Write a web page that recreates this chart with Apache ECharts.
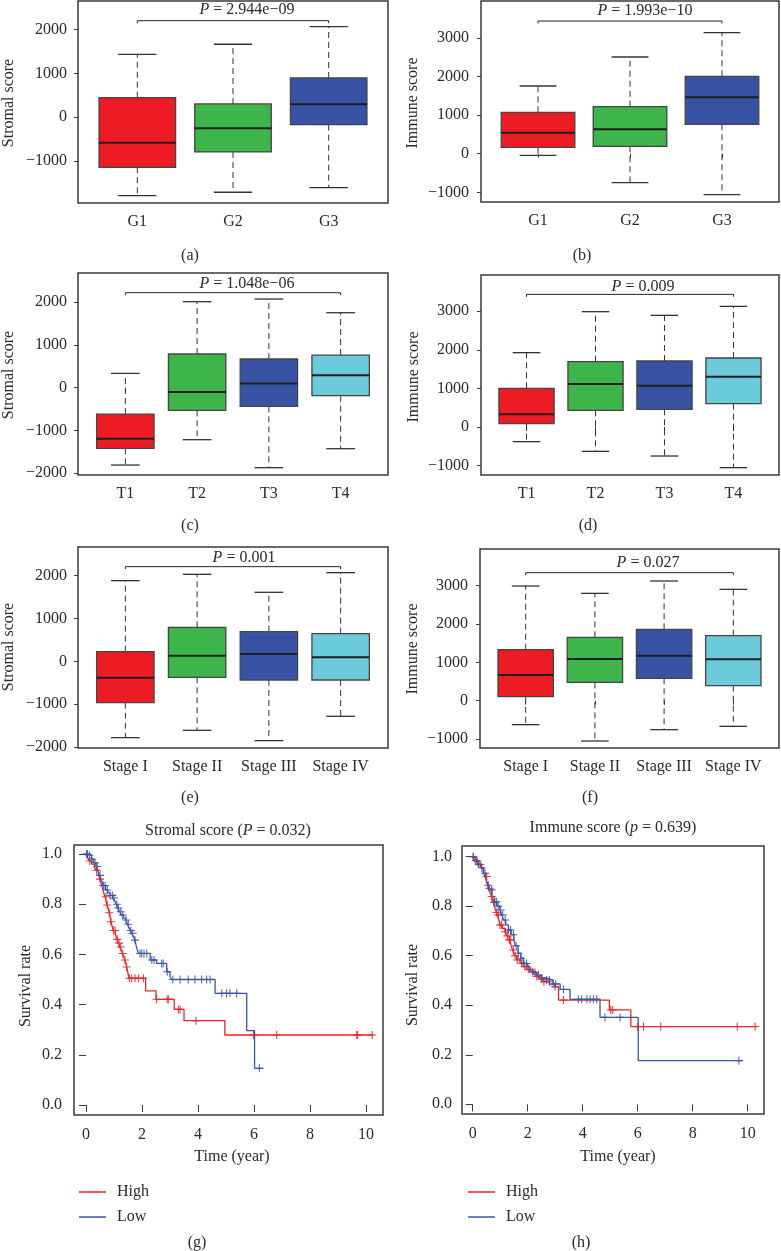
<!DOCTYPE html>
<html>
<head>
<meta charset="utf-8">
<script src="https://cdn.jsdelivr.net/npm/echarts@6/dist/echarts.min.js"></script>
<style>html,body{margin:0;padding:0;background:#fff}#c{width:781px;height:1251px}</style>
</head>
<body>
<div id="c"></div>
<script>
// ---------------- DATA ----------------
const gradeCats = ['G1', 'G2', 'G3'];
const tCats = ['T1', 'T2', 'T3', 'T4'];
const stageCats = ['Stage I', 'Stage II', 'Stage III', 'Stage IV'];
// each box: [lower whisker, Q1, median, Q3, upper whisker]
const stromalByGrade = [[-1790, -1142, -580, 447, 1438], [-1712, -792, -251, 304, 1667], [-1607, -169, 297, 897, 2068]];
const immuneByGrade = [[-41, 166, 543, 1071, 1751], [-750, 191, 631, 1216, 2502], [-1061, 761, 1459, 2003, 3131]];
const stromalByT = [[-1809, -1419, -1193, -616, 335], [-1216, -530, -101, 788, 2012], [-1871, -437, 101, 671, 2074], [-1427, -187, 289, 764, 1754]];
const immuneByT = [[-380, 86, 328, 1002, 1927], [-631, 432, 1114, 1693, 2989], [-752, 458, 1071, 1711, 2894], [-1054, 605, 1305, 1788, 3127]];
const stromalByStage = [[-1782, -965, -381, 226, 1883], [-1611, -374, 132, 794, 2031], [-1852, -436, 171, 693, 1611], [-1284, -436, 93, 646, 2070]];
const immuneByStage = [[-626, 104, 670, 1330, 2991], [-1052, 478, 1087, 1652, 2800], [-757, 583, 1174, 1861, 3122], [-670, 391, 1078, 1696, 2904]];
const pValueTexts = ['2.944e−09', '1.993e−10', '1.048e−06', '0.009', '0.001', '0.027'];
const bracketLevels = [2205, 3433, 2222, 3438, 2210, 3339];
const stromalTicks = [-2000, -1000, 0, 1000, 2000];
const immuneTicks = [-1000, 0, 1000, 2000, 3000];

// Kaplan-Meier: step times and survival after each step (last entry = end of follow-up)
const kmStromalHighTime = [0, 0.06, 0.12, 0.2, 0.3, 0.36, 0.44, 0.5, 0.56, 0.62, 0.68, 0.72, 0.75, 0.8, 0.83, 0.87, 0.89, 0.94, 0.97, 1.05, 1.1, 1.16, 1.2, 1.25, 1.3, 1.35, 1.38, 1.42, 1.45, 1.49, 1.53, 2.13, 2.5, 3.15, 3.5, 4.96, 10.26];
const kmStromalHighSurv = [1.0, 0.985, 0.972, 0.96, 0.948, 0.935, 0.918, 0.9, 0.875, 0.85, 0.83, 0.81, 0.797, 0.78, 0.766, 0.745, 0.73, 0.71, 0.695, 0.68, 0.66, 0.645, 0.63, 0.618, 0.604, 0.59, 0.578, 0.565, 0.55, 0.53, 0.505, 0.455, 0.421, 0.381, 0.336, 0.279, 0.279];
const kmStromalHighCensor = [0.14, 0.38, 0.5, 0.71, 0.76, 0.83, 0.89, 0.98, 1.04, 1.12, 1.18, 1.24, 1.31, 1.39, 1.45, 1.55, 1.63, 1.75, 1.87, 2.05, 2.52, 2.9, 2.94, 3.3, 3.36, 3.93, 5.98, 6.81, 9.67, 9.7, 10.22];
const kmStromalLowTime = [0, 0.1, 0.2, 0.28, 0.36, 0.42, 0.48, 0.55, 0.62, 0.7, 0.78, 0.86, 0.95, 1.02, 1.08, 1.14, 1.2, 1.26, 1.34, 1.42, 1.48, 1.52, 1.58, 1.63, 1.7, 1.75, 1.8, 1.87, 2.29, 2.52, 2.88, 3.0, 3.06, 4.61, 5.74, 6.02, 6.33];
const kmStromalLowSurv = [1.0, 0.995, 0.98, 0.965, 0.95, 0.936, 0.915, 0.896, 0.875, 0.857, 0.845, 0.835, 0.825, 0.815, 0.8, 0.785, 0.77, 0.757, 0.745, 0.737, 0.72, 0.71, 0.695, 0.684, 0.67, 0.657, 0.63, 0.604, 0.578, 0.564, 0.531, 0.511, 0.5, 0.445, 0.296, 0.146, 0.146];
const kmStromalLowCensor = [0.02, 0.05, 0.12, 0.2, 0.32, 0.4, 0.5, 0.62, 0.68, 0.76, 0.86, 0.94, 1.0, 1.1, 1.15, 1.24, 1.31, 1.43, 1.51, 1.6, 1.67, 1.75, 1.93, 1.99, 2.07, 2.17, 2.35, 2.43, 2.7, 2.76, 2.9, 3.1, 3.36, 3.65, 3.89, 4.13, 4.31, 4.43, 4.85, 5.02, 5.14, 5.38, 6.19];
const kmImmuneHighTime = [0, 0.05, 0.1, 0.2, 0.3, 0.38, 0.45, 0.52, 0.57, 0.63, 0.69, 0.75, 0.81, 0.86, 0.9, 0.95, 0.99, 1.08, 1.18, 1.25, 1.33, 1.4, 1.45, 1.52, 1.6, 1.72, 1.84, 1.96, 2.08, 2.2, 2.33, 2.45, 2.57, 2.8, 2.99, 3.12, 4.97, 5.75, 10.33];
const kmImmuneHighSurv = [1.0, 0.99, 0.98, 0.968, 0.955, 0.935, 0.92, 0.895, 0.872, 0.855, 0.839, 0.815, 0.792, 0.775, 0.765, 0.745, 0.724, 0.71, 0.697, 0.68, 0.664, 0.64, 0.623, 0.6, 0.583, 0.57, 0.556, 0.545, 0.536, 0.526, 0.516, 0.505, 0.495, 0.485, 0.475, 0.421, 0.381, 0.314, 0.314];
const kmImmuneHighCensor = [0.02, 0.17, 0.27, 0.51, 0.61, 0.69, 0.78, 0.87, 0.93, 0.99, 1.05, 1.18, 1.26, 1.33, 1.38, 1.48, 1.54, 1.62, 1.78, 1.9, 2.02, 2.18, 2.33, 2.51, 2.59, 2.79, 2.99, 3.3, 5.02, 5.09, 5.99, 6.21, 6.84, 9.62, 10.27];
const kmImmuneLowTime = [0, 0.05, 0.12, 0.2, 0.3, 0.4, 0.48, 0.55, 0.62, 0.7, 0.78, 0.88, 0.99, 1.05, 1.12, 1.2, 1.3, 1.4, 1.5, 1.55, 1.65, 1.75, 1.84, 2.0, 2.08, 2.2, 2.33, 2.5, 2.69, 2.93, 3.18, 3.54, 4.63, 6.02, 9.82];
const kmImmuneLowSurv = [1.0, 0.995, 0.985, 0.97, 0.955, 0.933, 0.91, 0.885, 0.866, 0.84, 0.818, 0.8, 0.785, 0.765, 0.744, 0.725, 0.704, 0.685, 0.664, 0.64, 0.61, 0.59, 0.569, 0.555, 0.543, 0.532, 0.522, 0.51, 0.502, 0.486, 0.464, 0.424, 0.351, 0.176, 0.176];
const kmImmuneLowCensor = [0.02, 0.12, 0.21, 0.33, 0.45, 0.57, 0.69, 0.81, 0.87, 0.93, 1.02, 1.09, 1.18, 1.3, 1.38, 1.48, 1.58, 1.66, 1.75, 1.87, 1.96, 2.08, 2.27, 2.39, 2.51, 2.69, 2.79, 2.93, 3.02, 3.3, 3.84, 3.96, 4.15, 4.27, 4.39, 4.51, 4.81, 5.36, 9.68];
const kmXTicks = [0, 2, 4, 6, 8, 10];
const kmYTicks = [0, 0.2, 0.4, 0.6, 0.8, 1.0];

// ---------------- STYLE / LAYOUT ----------------
const FONT = 'Liberation Serif';
const TXT = '#2a2a2a';
const AX = '#3a3a3a';
const boxColors = ['#ED1C24', '#3DB54A', '#3953A4', '#6CCBDB'];
const kmRed = '#E8232A', kmBlue = '#3A54A6';

const boxPanels = [
  {cats: gradeCats, data: stromalByGrade, ticks: stromalTicks, grid: {left: 78, top: 1, width: 310, height: 202}, yr: [-1957, 2655], lm: 11},
  {cats: gradeCats, data: immuneByGrade, ticks: immuneTicks, grid: {left: 481, top: 1, width: 298, height: 201}, yr: [-1250, 3951], lm: 12},
  {cats: tCats, data: stromalByT, ticks: stromalTicks, grid: {left: 78, top: 273, width: 310, height: 202}, yr: [-2042, 2683], lm: 11},
  {cats: tCats, data: immuneByT, ticks: immuneTicks, grid: {left: 481, top: 275, width: 298, height: 200}, yr: [-1244, 3940], lm: 12},
  {cats: stageCats, data: stromalByStage, ticks: stromalTicks, grid: {left: 78, top: 547, width: 310, height: 201}, yr: [-2024, 2669], lm: 11},
  {cats: stageCats, data: immuneByStage, ticks: immuneTicks, grid: {left: 480, top: 549, width: 299, height: 199}, yr: [-1235, 3957], lm: 12}
];
const kmPanels = [
  {grid: {left: 74, top: 845, width: 309, height: 270}, xr: [-0.4286, 10.607], yr: [-0.0398, 1.036], lm: 12,
   high: [kmStromalHighTime, kmStromalHighSurv, kmStromalHighCensor], low: [kmStromalLowTime, kmStromalLowSurv, kmStromalLowCensor]},
  {grid: {left: 462, top: 846, width: 302, height: 268}, xr: [-0.389, 10.593], yr: [-0.0392, 1.0432], lm: 10,
   high: [kmImmuneHighTime, kmImmuneHighSurv, kmImmuneHighCensor], low: [kmImmuneLowTime, kmImmuneLowSurv, kmImmuneLowCensor]}
];

const minus = v => String(v).replace('-', '−');
const labelStyle = {fontFamily: FONT, fontSize: 16, color: TXT};
const grids = [], xAxes = [], yAxes = [], series = [];

function boxRender(params, api) {
  const x = api.value(0);
  const lo = api.coord([x, api.value(1)]);
  const q1 = api.coord([x, api.value(2)]);
  const md = api.coord([x, api.value(3)]);
  const q3 = api.coord([x, api.value(4)]);
  const hi = api.coord([x, api.value(5)]);
  const hw = api.size([0.4, 0])[0];
  const cw = api.size([0.2, 0])[0];
  const cx = lo[0];
  const col = boxColors[params.dataIndex % boxColors.length];
  const dash = {stroke: '#333', lineWidth: 1, lineDash: [6, 4]};
  const solid = {stroke: '#333', lineWidth: 1.3};
  return {type: 'group', children: [
    {type: 'line', shape: {x1: cx, y1: q3[1], x2: cx, y2: hi[1]}, style: dash},
    {type: 'line', shape: {x1: cx, y1: q1[1], x2: cx, y2: lo[1]}, style: dash},
    {type: 'line', shape: {x1: cx - cw, y1: hi[1], x2: cx + cw, y2: hi[1]}, style: solid},
    {type: 'line', shape: {x1: cx - cw, y1: lo[1], x2: cx + cw, y2: lo[1]}, style: solid},
    {type: 'rect', shape: {x: cx - hw, y: q3[1], width: 2 * hw, height: q1[1] - q3[1]}, style: {fill: col, stroke: '#454545', lineWidth: 1.3}},
    {type: 'line', shape: {x1: cx - hw, y1: md[1], x2: cx + hw, y2: md[1]}, style: {stroke: '#1e1e1e', lineWidth: 2}}
  ]};
}

boxPanels.forEach((p, i) => {
  const n = p.cats.length;
  grids.push(Object.assign({show: true, borderColor: AX, borderWidth: 1.5, backgroundColor: 'transparent'}, p.grid));
  const xt = p.cats.map((c, k) => k + 1);
  xAxes.push({gridIndex: i, type: 'value', min: 0.5 - 0.04 * n, max: n + 0.5 + 0.04 * n,
    axisLine: {show: false}, splitLine: {show: false},
    axisTick: {show: true, length: 4, customValues: xt, lineStyle: {color: AX, width: 1}},
    axisLabel: Object.assign({customValues: xt, margin: 11, formatter: v => p.cats[Math.round(v) - 1]}, labelStyle)});
  yAxes.push({gridIndex: i, type: 'value', min: p.yr[0], max: p.yr[1],
    axisLine: {show: false}, splitLine: {show: false},
    axisTick: {show: true, length: 4, customValues: p.ticks, lineStyle: {color: AX, width: 1}},
    axisLabel: Object.assign({customValues: p.ticks, margin: p.lm, formatter: minus}, labelStyle)});
  series.push({type: 'custom', xAxisIndex: i, yAxisIndex: i, renderItem: boxRender, silent: true,
    encode: {x: 0, y: [1, 2, 3, 4, 5]},
    data: p.data.map((b, k) => [k + 1].concat(b))});
  const lvl = bracketLevels[i], drop = (p.yr[1] - p.yr[0]) * 0.012;
  series.push({type: 'line', xAxisIndex: i, yAxisIndex: i, silent: true, showSymbol: false,
    lineStyle: {color: '#222', width: 1},
    data: [[1, lvl - drop], [1, lvl], [n, lvl], [n, lvl - drop]]});
});

function survAt(times, surv, t) {
  let s = surv[0];
  for (let k = 0; k < times.length; k++) { if (times[k] <= t) s = surv[k]; }
  return s;
}
const crossPath = 'path://M-1,-0.13 L-0.13,-0.13 L-0.13,-1 L0.13,-1 L0.13,-0.13 L1,-0.13 L1,0.13 L0.13,0.13 L0.13,1 L-0.13,1 L-0.13,0.13 L-1,0.13 Z';

kmPanels.forEach((p, j) => {
  const i = boxPanels.length + j;
  grids.push(Object.assign({show: true, borderColor: AX, borderWidth: 1.5, backgroundColor: 'transparent'}, p.grid));
  xAxes.push({gridIndex: i, type: 'value', min: p.xr[0], max: p.xr[1],
    axisLine: {show: false}, splitLine: {show: false},
    axisTick: {show: true, length: 7, customValues: kmXTicks, lineStyle: {color: AX, width: 1}},
    axisLabel: Object.assign({customValues: kmXTicks, margin: 12}, labelStyle)});
  yAxes.push({gridIndex: i, type: 'value', min: p.yr[0], max: p.yr[1],
    axisLine: {show: false}, splitLine: {show: false},
    axisTick: {show: true, length: 7, customValues: kmYTicks, lineStyle: {color: AX, width: 1}},
    axisLabel: Object.assign({customValues: kmYTicks, margin: p.lm, formatter: v => v.toFixed(1)}, labelStyle)});
  [['High', p.high, kmRed], ['Low', p.low, kmBlue]].forEach(([name, d, col]) => {
    series.push({type: 'line', name: name, xAxisIndex: i, yAxisIndex: i, step: 'end', silent: true, showSymbol: false,
      itemStyle: {color: col}, lineStyle: {color: col, width: 1.3}, z: 3,
      data: d[0].map((t, k) => [t, d[1][k]])});
    series.push({type: 'scatter', name: name + ' censored', xAxisIndex: i, yAxisIndex: i, silent: true,
      symbol: crossPath, symbolSize: 8, itemStyle: {color: col, opacity: 0.9}, z: 4,
      data: d[2].map(t => [t, survAt(d[0], d[1], t)])});
  });
});

// ---------------- TEXT ----------------
function txt(x, y, text, opts) {
  return Object.assign({type: 'text', x: x, y: y, silent: true,
    style: Object.assign({text: text, fontFamily: FONT, fontSize: 16, fill: TXT, align: 'center', verticalAlign: 'middle',
      rich: {i: {fontStyle: 'italic', fontFamily: FONT, fontSize: 16, fill: TXT}}}, (opts && opts.style) || {})},
    (opts && opts.rotation !== undefined) ? {rotation: opts.rotation} : {});
}
const R = Math.PI / 2;
const pPos = [[247, 9.5], [645, 10.5], [247, 284], [643, 286.5], [244, 558], [648, 563]];
const graphics = [];
pPos.forEach((pp, i) => graphics.push(txt(pp[0], pp[1], '{i|P} = ' + pValueTexts[i])));
[['Stromal score', 9, 103], ['Immune score', 413, 103], ['Stromal score', 9, 375], ['Immune score', 414, 377],
 ['Stromal score', 9, 647], ['Immune score', 413, 649], ['Survival rate', 26, 986], ['Survival rate', 413, 985]]
  .forEach(a => graphics.push(txt(a[1], a[2], a[0], {rotation: R})));
[['(a)', 190, 256], ['(b)', 582, 256], ['(c)', 190, 526], ['(d)', 588, 526], ['(e)', 190, 798], ['(f)', 590, 798], ['(g)', 197, 1243], ['(h)', 581, 1243]]
  .forEach(a => graphics.push(txt(a[1], a[2], a[0])));
graphics.push(txt(228, 831, 'Stromal score ({i|P} = 0.032)'));
graphics.push(txt(613, 828, 'Immune score ({i|p} = 0.639)'));
graphics.push(txt(232, 1157, 'Time (year)'));
graphics.push(txt(618, 1157, 'Time (year)'));

const legendBase = {data: ['High', 'Low'], orient: 'vertical', icon: 'rect', itemWidth: 27, itemHeight: 1.5, itemGap: 9,
  selectedMode: false, textStyle: {fontFamily: FONT, fontSize: 16, color: TXT, lineHeight: 16, padding: [0, 0, 0, 6]}};

const chart = echarts.init(document.getElementById('c'), null, {renderer: 'canvas'});
chart.setOption({
  animation: false,
  backgroundColor: '#fff',
  grid: grids, xAxis: xAxes, yAxis: yAxes, series: series,
  legend: [Object.assign({left: 74, top: 1179}, legendBase), Object.assign({left: 463, top: 1179}, legendBase)],
  graphic: graphics
});
</script>
</body>
</html>
